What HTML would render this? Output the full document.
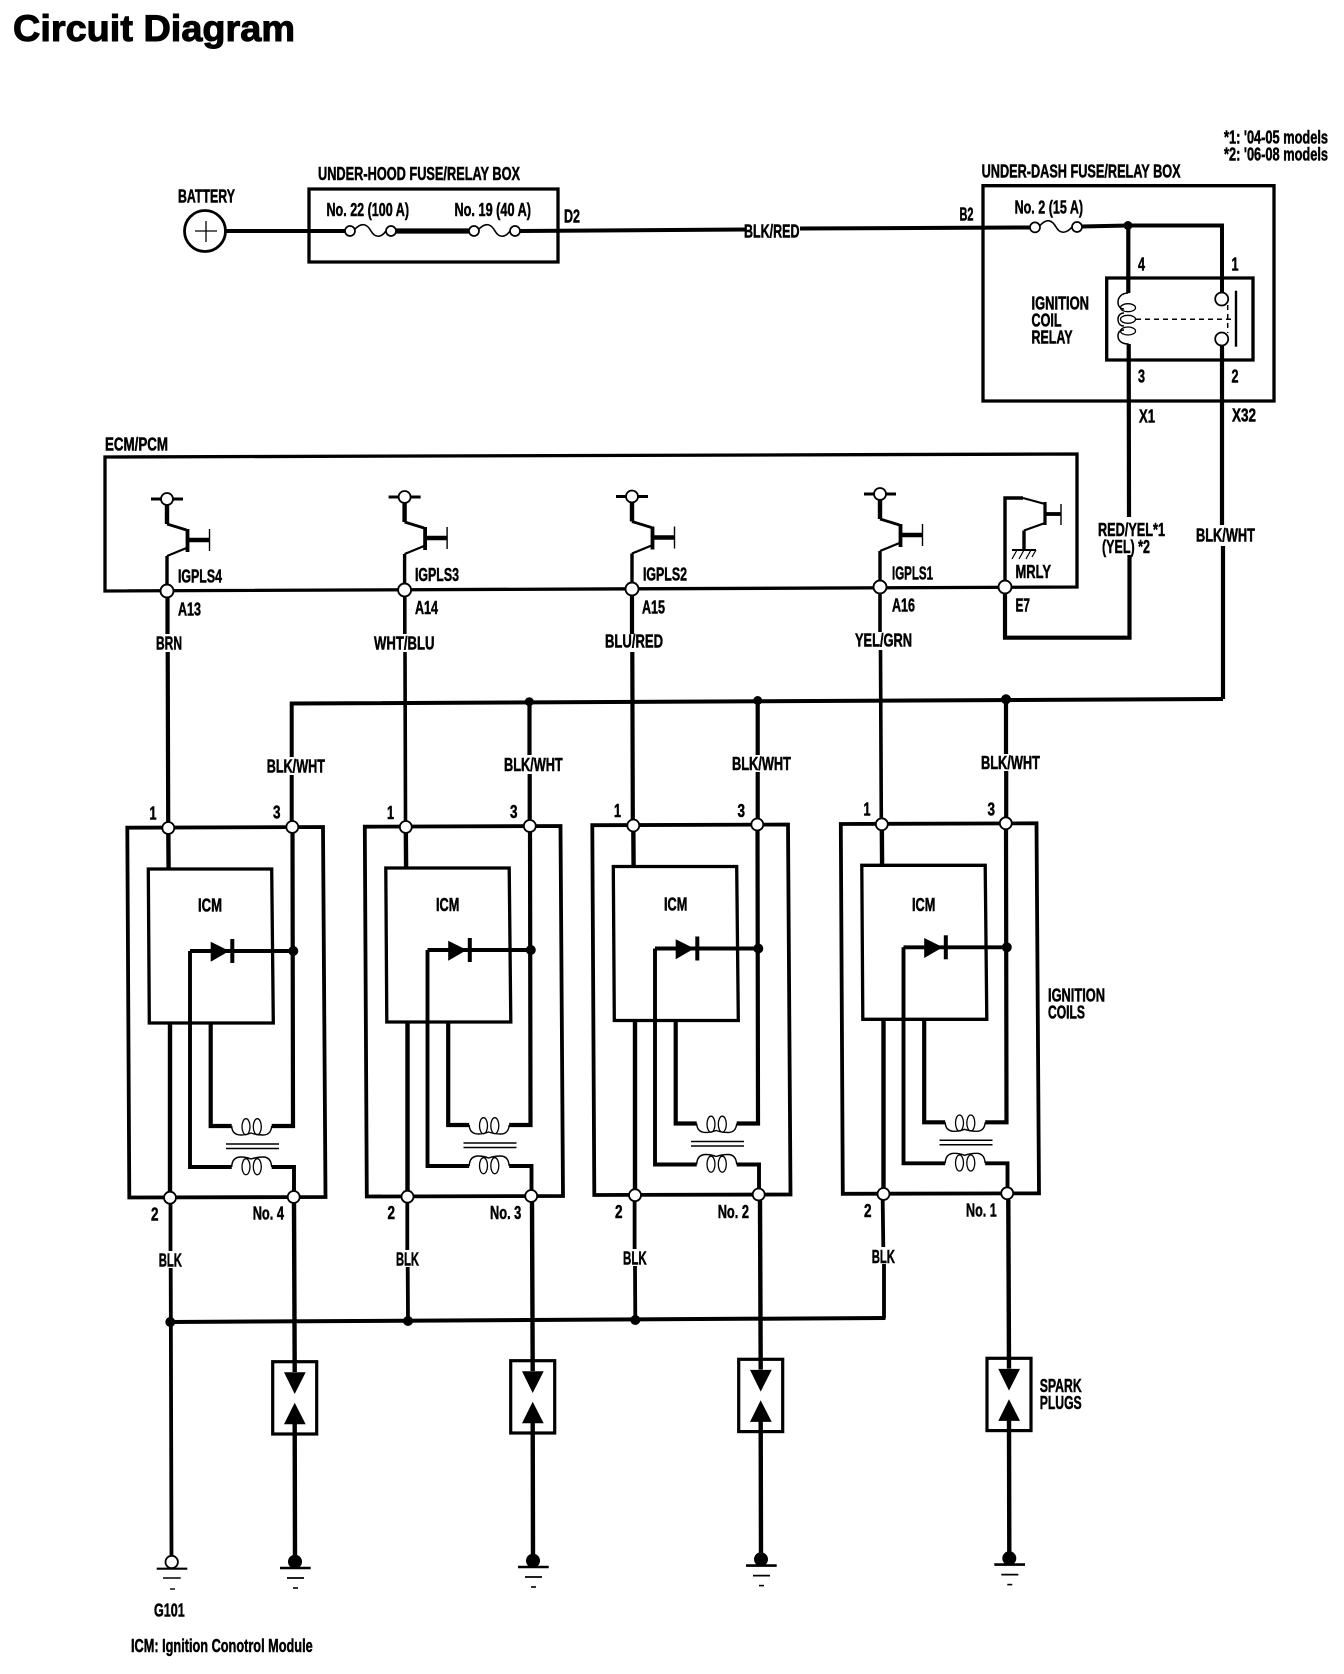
<!DOCTYPE html>
<html><head><meta charset="utf-8"><title>Circuit Diagram</title>
<style>
html,body{margin:0;padding:0;background:#fff}
svg{display:block}
text{font-family:"Liberation Sans",sans-serif;font-weight:bold;font-size:18px;fill:#000;stroke:#000;stroke-width:.5}
</style></head><body>
<svg xmlns="http://www.w3.org/2000/svg" width="1344" height="1674" viewBox="0 0 1344 1674">
<defs>
<g id="coil" fill="none" stroke="#000">
<path d="M127.3 827.7L323 827L325.5 1197L129.3 1197.5Z" stroke-width="3.8"/>
<path d="M168.3 828L168.6 869M170 1023L170 1197" stroke-width="4.4"/>
<path d="M148.3 869L271.7 869L273.3 1023L149.3 1023Z" stroke-width="3.3"/>
<path d="M292.5 827L293 1126L271.7 1126M210.7 1023L210.7 1126L231.7 1126" stroke-width="4.2"/>
<path d="M190 951L190 1167L231.7 1167M271.7 1167L294 1167L294 1197M190 951L293.3 951" stroke-width="3.9"/>
<path d="M231.7 1126Q232 1135 241 1135Q246 1135 251 1133Q257 1135 263 1135Q271 1135 271.7 1126M231.7 1167Q232 1157 241 1157Q246 1157 251 1159Q257 1157 263 1157Q271 1157 271.7 1167" stroke-width="1.4"/>
<ellipse cx="246" cy="1126.7" rx="4" ry="8" stroke-width="1.3"/><ellipse cx="257.3" cy="1126.7" rx="4" ry="8" stroke-width="1.3"/>
<ellipse cx="246" cy="1166.7" rx="4" ry="8" stroke-width="1.3"/><ellipse cx="257.3" cy="1166.7" rx="4" ry="8" stroke-width="1.3"/>
<path d="M226 1144H279M226 1148.5H279" stroke-width="1.5"/>
<path d="M210.7 941.7V961.7L229.3 951Z" fill="#000" stroke="none"/>
<path d="M232.3 939V963" stroke-width="4"/>
<circle cx="293.3" cy="951" r="5" fill="#000" stroke="none"/>
<circle cx="168.3" cy="828" r="6" fill="#fff" stroke-width="1.8"/>
<circle cx="292.3" cy="827" r="6" fill="#fff" stroke-width="1.8"/>
<circle cx="170" cy="1197.7" r="6" fill="#fff" stroke-width="1.8"/>
<circle cx="293.7" cy="1197" r="6" fill="#fff" stroke-width="1.8"/>
</g>
<g id="spark" fill="none" stroke="#000">
<path d="M294 1203L294.7 1372M294.7 1424L295 1558" stroke-width="4.4"/>
<rect x="272.7" y="1361.7" width="44" height="72.3" fill="none" stroke-width="3.2"/>
<path d="M284 1372.3H305.7L294.7 1394ZM284 1424.3H305.7L294.7 1402.7Z" fill="#000" stroke="none"/>
<circle cx="295" cy="1561.7" r="7" fill="#000" stroke="none"/>
<path d="M280 1568H310.7" stroke-width="2.6"/>
<path d="M287 1578H304" stroke-width="1.8"/>
<path d="M293 1588H298" stroke-width="1.6"/>
</g>
<g id="tr" fill="none" stroke="#000">
<path d="M151 499H183" stroke-width="3"/>
<path d="M167 505V524" stroke-width="4.4"/>
<path d="M167 524L186.5 530" stroke-width="2.8"/>
<path d="M187.5 529V552" stroke-width="3.8"/>
<path d="M187 540H209" stroke-width="4.4"/>
<path d="M209.5 529V551" stroke-width="1.4"/>
<path d="M186.5 548L167 556" stroke-width="2.2"/>
<path d="M167 556V586" stroke-width="3.4"/>
<circle cx="167" cy="499" r="6" fill="#fff" stroke-width="1.8"/>
</g>
</defs>

<text x="13" y="41" font-size="37" style="font-size:37px;stroke-width:1" textLength="282" lengthAdjust="spacingAndGlyphs">Circuit Diagram</text>

<!-- battery / under-hood -->
<circle cx="205" cy="231" r="20.5" fill="#fff" stroke="#000" stroke-width="2.8"/>
<path d="M195 231H217M206 221V242" stroke="#000" stroke-width="1.3" fill="none"/>
<path d="M309 189H558V262H309Z" fill="none" stroke="#000" stroke-width="3.3"/>
<path d="M226 231H345" stroke="#000" stroke-width="4" fill="none"/>
<path d="M396 231H469" stroke="#000" stroke-width="5.2" fill="none"/>
<path d="M520 231L745 229.5M800 228.5L1030 227.5M1082 226.5L1128 225.5H1222V292" stroke="#000" stroke-width="4" fill="none"/>
<g fill="#fff" stroke="#000" stroke-width="1.7">
<circle cx="350" cy="231" r="5"/><circle cx="391" cy="231" r="5"/>
<circle cx="474" cy="231" r="5"/><circle cx="515" cy="231" r="5"/>
<circle cx="1035" cy="227.4" r="5"/><circle cx="1077" cy="227" r="5"/>
</g>
<g fill="none" stroke="#000" stroke-width="1.6">
<path d="M355 229C362 222 367 224 371 231C375 238 381 238 386 231"/>
<path d="M479 229C486 222 491 224 495 231C499 238 505 238 510 231"/>
<path d="M1040 225.5C1047 218 1052 220 1056 227C1060 234 1066 234 1072 227"/>
</g>
<circle cx="1128" cy="225.5" r="4.5" fill="#000"/>

<!-- under-dash + relay -->
<path d="M983 185.7H1274V401H983Z" fill="none" stroke="#000" stroke-width="3.3"/>
<path d="M1106.7 278H1253V360H1106.7Z" fill="none" stroke="#000" stroke-width="3.3"/>
<path d="M1128.3 226V293M1128.7 344L1129 517M1129.5 555V637.7H1005V593" stroke="#000" stroke-width="4.2" fill="none"/>
<path d="M1222 345V525M1223 546V699" stroke="#000" stroke-width="4.2" fill="none"/>
<path d="M1128.3 293C1121 293 1118 298 1118 302C1118 307 1121 309 1124 309M1118 319C1118 316 1120 313 1124 313M1118 319C1118 323 1120 326 1124 326M1118 336C1118 332 1120 330 1124 330M1118 336C1118 341 1122 344 1128.7 344" fill="none" stroke="#000" stroke-width="1.5"/>
<ellipse cx="1128" cy="307.7" rx="7.5" ry="4" fill="none" stroke="#000" stroke-width="1.3"/>
<ellipse cx="1128" cy="319.3" rx="7.5" ry="4" fill="none" stroke="#000" stroke-width="1.3"/>
<ellipse cx="1128" cy="331" rx="7.5" ry="4" fill="none" stroke="#000" stroke-width="1.3"/>
<circle cx="1221.7" cy="299" r="6.5" fill="#fff" stroke="#000" stroke-width="1.8"/>
<circle cx="1221.7" cy="339" r="6.5" fill="#fff" stroke="#000" stroke-width="1.8"/>
<path d="M1236 290.7V346.7" stroke="#000" stroke-width="2.4" fill="none"/>
<path d="M1136 319.3H1237M1227.7 305V333" stroke="#000" stroke-width="1.5" stroke-dasharray="5 4" fill="none"/>

<!-- ECM/PCM -->
<path d="M105 457L1077 454V587L105 591Z" fill="none" stroke="#000" stroke-width="3.3"/>
<use href="#tr"/>
<use href="#tr" transform="translate(237.6,-2)"/>
<use href="#tr" transform="translate(465,-2.5)"/>
<use href="#tr" transform="translate(713,-5)"/>
<!-- MRLY -->
<g fill="none" stroke="#000">
<path d="M1005 587V498H1023" stroke-width="3.4"/>
<path d="M1023 498L1045 504" stroke-width="2.2"/>
<path d="M1045 502V525" stroke-width="3.2"/>
<path d="M1045 514H1061" stroke-width="3.8"/>
<path d="M1061 504V525" stroke-width="1.4"/>
<path d="M1045 523L1024 530.5" stroke-width="2.2"/>
<path d="M1024 530.5V550" stroke-width="3.4"/>
<path d="M1012 550H1036" stroke-width="2"/>
<path d="M1017 550L1012 559M1024 550L1019 559M1031 550L1026 559M1036 550L1032 557" stroke-width="1.2"/>
</g>
<g fill="#fff" stroke="#000" stroke-width="1.9">
<circle cx="167" cy="591" r="6.5"/><circle cx="404.6" cy="590" r="6.5"/><circle cx="632" cy="589" r="6.5"/><circle cx="880" cy="587" r="6.5"/><circle cx="1005" cy="587" r="6.5"/>
</g>

<!-- signal wires -->
<g fill="none" stroke="#000" stroke-width="4.2">
<path d="M167.5 597V634M167.7 652L168.2 822"/>
<path d="M404.8 596V634M405 652L405.5 821" stroke-width="3.6"/>
<path d="M632 595V634M632.3 652L632.8 820"/>
<path d="M880 593V632M880.5 650L881.3 819" stroke-width="3.6"/>
<!-- BLK/WHT bus -->
<path d="M1223 699L291.7 703.5V757M291.7 775V822" stroke-width="4"/>
<path d="M529.5 702V755M529.7 774V820"/>
<path d="M757.7 700.5V755M757.7 772V819"/>
<path d="M1006 699.3V754M1006.2 771V817"/>
<!-- BLK bus -->
<path d="M170.5 1203V1251M170.7 1268L171.5 1556" stroke-width="3.8"/>
<path d="M407.3 1203V1250M407.7 1267L408 1321" stroke-width="3.8"/>
<path d="M634.6 1201V1249M635 1266L635.3 1320" stroke-width="3.8"/>
<path d="M882.7 1200L883.3 1247M884 1264V1318" stroke-width="3.8"/>
<path d="M170.3 1322L885.5 1318" stroke-width="4"/>
</g>
<circle cx="529.3" cy="701.7" r="4.5"/><circle cx="757.7" cy="700.5" r="4.5"/><circle cx="1006" cy="699.3" r="5"/>
<circle cx="170.3" cy="1322" r="5"/><circle cx="408" cy="1321" r="5"/><circle cx="635.3" cy="1320" r="5"/>

<!-- coils -->
<use href="#coil"/>
<use href="#coil" transform="translate(237.5,-1)"/>
<use href="#coil" transform="translate(465,-2.5)"/>
<use href="#coil" transform="translate(713.5,-3.7)"/>

<!-- spark plugs -->
<use href="#spark"/>
<use href="#spark" transform="translate(238,-1)"/>
<use href="#spark" transform="translate(466,-2.4)"/>
<use href="#spark" transform="translate(714.3,-3.4)"/>

<!-- G101 -->
<circle cx="171.7" cy="1562" r="6.2" fill="#fff" stroke="#000" stroke-width="1.8"/>
<path d="M156.7 1568.7H187.3" stroke="#000" stroke-width="2.2"/>
<path d="M163 1578H180.7" stroke="#000" stroke-width="1.4"/>
<path d="M170 1589H175" stroke="#000" stroke-width="1.4"/>

<!-- labels -->
<text x="178" y="202.5" textLength="57" lengthAdjust="spacingAndGlyphs">BATTERY</text>
<text x="318" y="180" textLength="202" lengthAdjust="spacingAndGlyphs">UNDER-HOOD FUSE/RELAY BOX</text>
<text x="326.5" y="216" textLength="82.5" lengthAdjust="spacingAndGlyphs">No. 22 (100 A)</text>
<text x="454.5" y="216" textLength="76.5" lengthAdjust="spacingAndGlyphs">No. 19 (40 A)</text>
<text x="564" y="222.5" textLength="16" lengthAdjust="spacingAndGlyphs">D2</text>
<text x="744" y="237.5" textLength="55.5" lengthAdjust="spacingAndGlyphs">BLK/RED</text>
<text x="959.5" y="220.5" textLength="14" lengthAdjust="spacingAndGlyphs">B2</text>
<text x="981.6" y="177.5" textLength="199" lengthAdjust="spacingAndGlyphs">UNDER-DASH FUSE/RELAY BOX</text>
<text x="1014.6" y="213.5" textLength="68.5" lengthAdjust="spacingAndGlyphs">No. 2 (15 A)</text>
<text x="1224" y="143.5" textLength="104" lengthAdjust="spacingAndGlyphs">*1: '04-05 models</text>
<text x="1224" y="160.5" textLength="104" lengthAdjust="spacingAndGlyphs">*2: '06-08 models</text>
<text x="1138" y="270.5" textLength="7" lengthAdjust="spacingAndGlyphs">4</text>
<text x="1231.5" y="270.5" textLength="7" lengthAdjust="spacingAndGlyphs">1</text>
<text x="1138" y="382.5" textLength="7" lengthAdjust="spacingAndGlyphs">3</text>
<text x="1231.5" y="382.5" textLength="7" lengthAdjust="spacingAndGlyphs">2</text>
<text x="1031.5" y="309.5" textLength="57.5" lengthAdjust="spacingAndGlyphs">IGNITION</text>
<text x="1031.5" y="326.5" textLength="30" lengthAdjust="spacingAndGlyphs">COIL</text>
<text x="1031.5" y="343.5" textLength="41" lengthAdjust="spacingAndGlyphs">RELAY</text>
<text x="1139" y="422.5" textLength="16" lengthAdjust="spacingAndGlyphs">X1</text>
<text x="1232" y="421.5" textLength="24" lengthAdjust="spacingAndGlyphs">X32</text>
<text x="105" y="450.5" textLength="63" lengthAdjust="spacingAndGlyphs">ECM/PCM</text>
<text x="178" y="582.5" textLength="44" lengthAdjust="spacingAndGlyphs">IGPLS4</text>
<text x="415" y="581" textLength="44" lengthAdjust="spacingAndGlyphs">IGPLS3</text>
<text x="643" y="580.5" textLength="44" lengthAdjust="spacingAndGlyphs">IGPLS2</text>
<text x="892" y="579.5" textLength="41" lengthAdjust="spacingAndGlyphs">IGPLS1</text>
<text x="1015.5" y="578" textLength="35.5" lengthAdjust="spacingAndGlyphs">MRLY</text>
<text x="178" y="615.5" textLength="23" lengthAdjust="spacingAndGlyphs">A13</text>
<text x="415" y="614" textLength="23" lengthAdjust="spacingAndGlyphs">A14</text>
<text x="642" y="613.5" textLength="23" lengthAdjust="spacingAndGlyphs">A15</text>
<text x="892" y="611.5" textLength="23" lengthAdjust="spacingAndGlyphs">A16</text>
<text x="1015.5" y="611.5" textLength="14.5" lengthAdjust="spacingAndGlyphs">E7</text>
<text x="156" y="649.5" textLength="26" lengthAdjust="spacingAndGlyphs">BRN</text>
<text x="374" y="649.5" textLength="60.5" lengthAdjust="spacingAndGlyphs">WHT/BLU</text>
<text x="605" y="647.5" textLength="58" lengthAdjust="spacingAndGlyphs">BLU/RED</text>
<text x="855" y="646.5" textLength="57" lengthAdjust="spacingAndGlyphs">YEL/GRN</text>
<text x="1098" y="536" textLength="67" lengthAdjust="spacingAndGlyphs">RED/YEL*1</text>
<text x="1102" y="553" textLength="48" lengthAdjust="spacingAndGlyphs">(YEL) *2</text>
<text x="1196" y="541.5" textLength="59" lengthAdjust="spacingAndGlyphs">BLK/WHT</text>
<text x="266.7" y="772.5" textLength="58.3" lengthAdjust="spacingAndGlyphs">BLK/WHT</text>
<text x="504" y="771" textLength="58.7" lengthAdjust="spacingAndGlyphs">BLK/WHT</text>
<text x="736" y="770" textLength="59" lengthAdjust="spacingAndGlyphs" transform="translate(-4,0)">BLK/WHT</text>
<text x="981" y="768.8" textLength="59" lengthAdjust="spacingAndGlyphs">BLK/WHT</text>
<text x="149.5" y="819.5" textLength="7" lengthAdjust="spacingAndGlyphs">1</text>
<text x="273" y="818.5" textLength="7.5" lengthAdjust="spacingAndGlyphs">3</text>
<text x="387" y="819" textLength="7" lengthAdjust="spacingAndGlyphs">1</text>
<text x="510" y="818" textLength="7.5" lengthAdjust="spacingAndGlyphs">3</text>
<text x="614" y="817" textLength="7" lengthAdjust="spacingAndGlyphs">1</text>
<text x="737.5" y="817" textLength="7.5" lengthAdjust="spacingAndGlyphs">3</text>
<text x="863.5" y="815.5" textLength="7" lengthAdjust="spacingAndGlyphs">1</text>
<text x="987.5" y="815.5" textLength="7.5" lengthAdjust="spacingAndGlyphs">3</text>
<text x="198" y="911.5" textLength="24" lengthAdjust="spacingAndGlyphs">ICM</text>
<text x="436" y="910.8" textLength="23.3" lengthAdjust="spacingAndGlyphs">ICM</text>
<text x="664" y="910.5" textLength="23.3" lengthAdjust="spacingAndGlyphs">ICM</text>
<text x="912" y="911.2" textLength="23.3" lengthAdjust="spacingAndGlyphs">ICM</text>
<text x="1048" y="1001.5" textLength="57" lengthAdjust="spacingAndGlyphs">IGNITION</text>
<text x="1048" y="1018.5" textLength="37" lengthAdjust="spacingAndGlyphs">COILS</text>
<text x="151" y="1220.5" textLength="7.5" lengthAdjust="spacingAndGlyphs">2</text>
<text x="252.7" y="1219.5" textLength="31.3" lengthAdjust="spacingAndGlyphs">No. 4</text>
<text x="387.5" y="1219" textLength="7.5" lengthAdjust="spacingAndGlyphs">2</text>
<text x="490" y="1219" textLength="31.3" lengthAdjust="spacingAndGlyphs">No. 3</text>
<text x="615" y="1218" textLength="7.5" lengthAdjust="spacingAndGlyphs">2</text>
<text x="717.7" y="1218" textLength="31.3" lengthAdjust="spacingAndGlyphs">No. 2</text>
<text x="864" y="1217" textLength="7.5" lengthAdjust="spacingAndGlyphs">2</text>
<text x="966" y="1216.5" textLength="30.7" lengthAdjust="spacingAndGlyphs">No. 1</text>
<text x="158.7" y="1266.5" textLength="23.3" lengthAdjust="spacingAndGlyphs">BLK</text>
<text x="396" y="1265.5" textLength="23" lengthAdjust="spacingAndGlyphs">BLK</text>
<text x="623" y="1264.5" textLength="23.7" lengthAdjust="spacingAndGlyphs">BLK</text>
<text x="871.7" y="1263" textLength="23.3" lengthAdjust="spacingAndGlyphs">BLK</text>
<text x="1039.7" y="1392" textLength="42" lengthAdjust="spacingAndGlyphs">SPARK</text>
<text x="1039.7" y="1409" textLength="42" lengthAdjust="spacingAndGlyphs">PLUGS</text>
<text x="154" y="1616.5" textLength="30.7" lengthAdjust="spacingAndGlyphs">G101</text>
<text x="131" y="1652" textLength="181.7" lengthAdjust="spacingAndGlyphs">ICM: Ignition Conotrol Module</text>
</svg>
</body></html>
